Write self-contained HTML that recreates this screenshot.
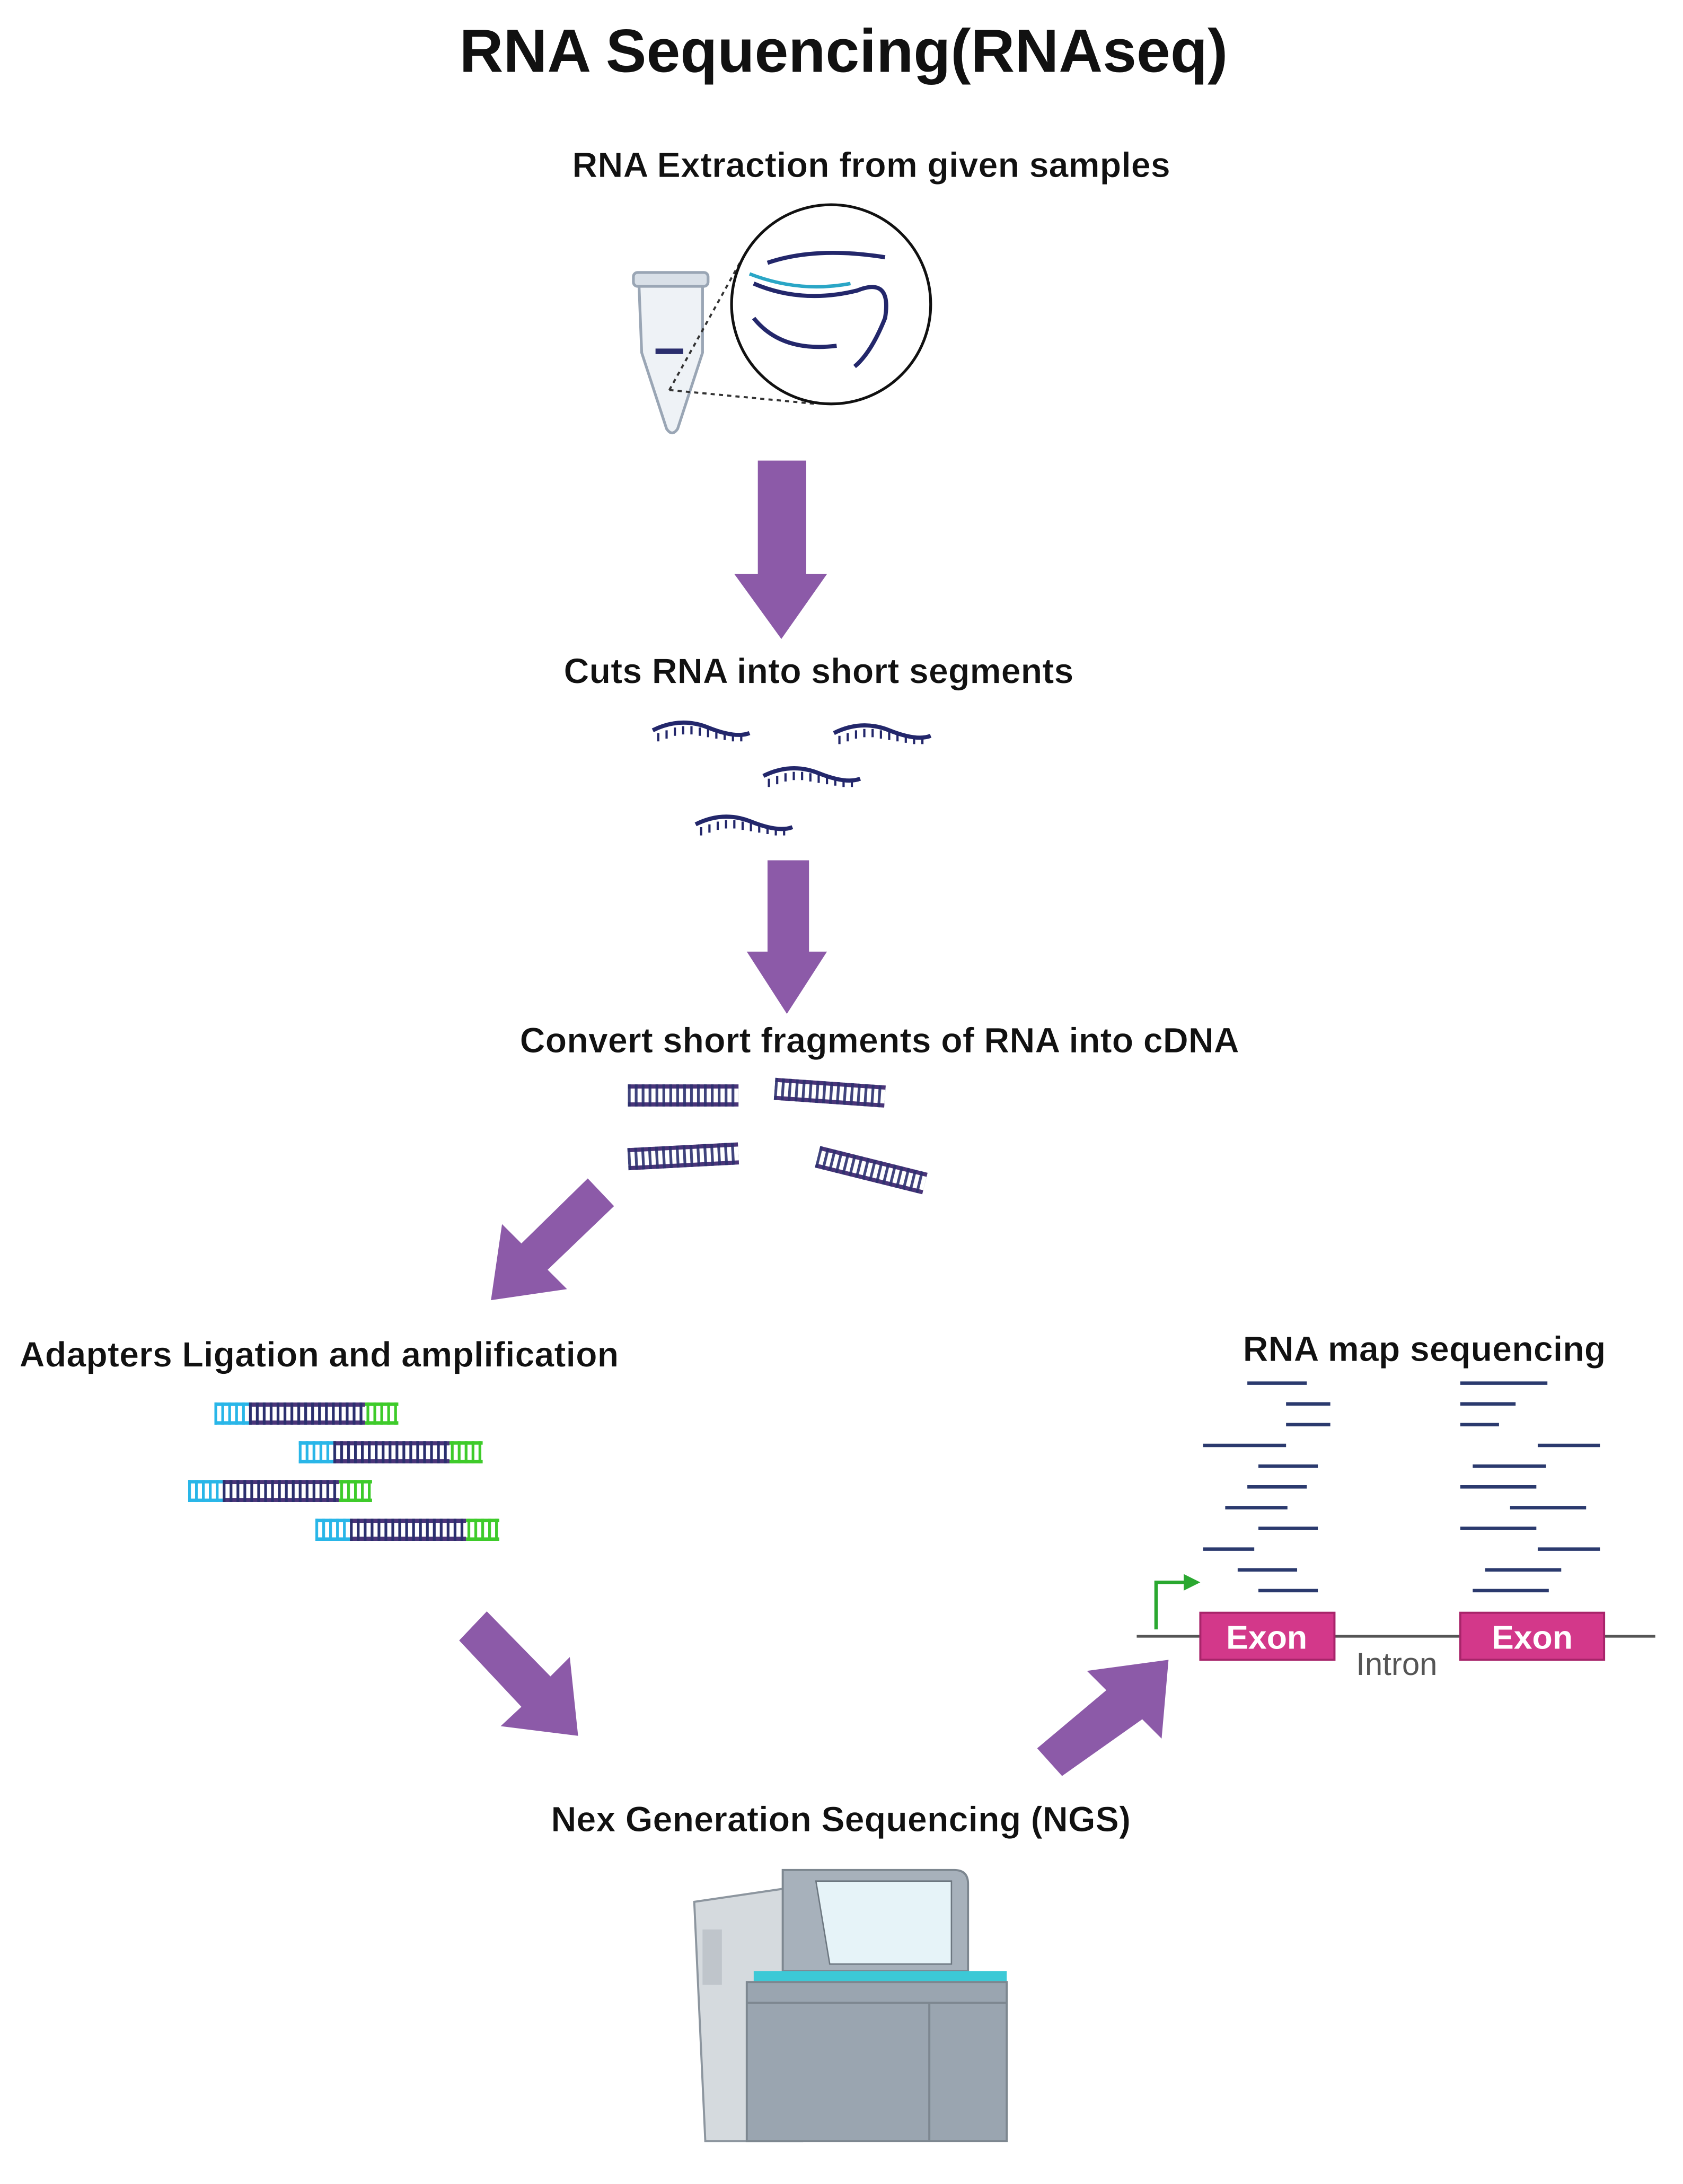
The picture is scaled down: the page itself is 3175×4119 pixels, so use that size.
<!DOCTYPE html>
<html><head><meta charset="utf-8"><style>
html,body{margin:0;padding:0;background:#fff}
svg{display:block}
text{font-family:"Liberation Sans",sans-serif;fill:#111}
.l{font-size:25.5px;font-weight:bold;stroke:#fff;stroke-width:0.3}
</style></head><body>
<svg width="3175" height="4119" viewBox="0 0 1217 1579" xmlns="http://www.w3.org/2000/svg">
<defs>
<pattern id="tk" width="5" height="10" patternUnits="userSpaceOnUse"><rect x="0" y="0" width="2" height="10" fill="#2b2f6e"/></pattern>
<pattern id="tg" width="5" height="10" patternUnits="userSpaceOnUse"><rect x="0" y="0" width="2" height="10" fill="#3ecb2a"/></pattern>
<pattern id="tb" width="5" height="10" patternUnits="userSpaceOnUse"><rect x="0" y="0" width="2" height="10" fill="#29b6e8"/></pattern>
<g id="frag"><path d="M0 6 Q20 -4 40 4 T70 8" fill="none" stroke="#23276b" stroke-width="3"/><path d="M4 8 L4 14 M10 6 L10 12 M16 4 L16 10 M22 3 L22 9 M28 3 L28 9 M34 4 L34 10 M40 5 L40 11 M46 6 L46 12 M52 7 L52 13 M58 8 L58 14 M64 8 L64 14" stroke="#23276b" stroke-width="1.6"/></g>
<g id="ds"><rect x="0" y="0" width="80" height="3" fill="#4a3579"/><rect x="0" y="13" width="80" height="3" fill="#4a3579"/><rect x="0" y="0" width="80" height="16" fill="url(#tk)" opacity="0.9"/></g>
<g id="ad">
<rect x="155" y="1014" width="25" height="16" fill="url(#tb)"/><rect x="155" y="1014" width="25" height="2.5" fill="#29b6e8"/><rect x="155" y="1027.5" width="25" height="2.5" fill="#29b6e8"/>
<rect x="180" y="1014" width="84" height="3" fill="#4a3579"/><rect x="180" y="1027" width="84" height="3" fill="#4a3579"/><rect x="180" y="1014" width="84" height="16" fill="url(#tk)"/>
<rect x="264" y="1014" width="24" height="2.5" fill="#3ecb2a"/><rect x="264" y="1027.5" width="24" height="2.5" fill="#3ecb2a"/><rect x="264" y="1014" width="24" height="16" fill="url(#tg)"/>
</g>
</defs>
<text x="610" y="52" font-size="44" font-weight="bold" text-anchor="middle">RNA Sequencing(RNAseq)</text>
<text class="l" x="630" y="128" text-anchor="middle">RNA Extraction from given samples</text>
<path d="M462 205 L508 205 L508 255 L490 310 Q486 316 482 310 L464 255 Z" fill="#eef2f6" stroke="#9aa6b5" stroke-width="2"/>
<rect x="458" y="197" width="54" height="10" rx="3" fill="#d9e0e8" stroke="#9aa6b5" stroke-width="2"/>
<rect x="474" y="252" width="20" height="4" fill="#2b2f6e"/>
<path d="M484 282 L535 190 M484 282 L590 292" stroke="#333" stroke-width="1.5" stroke-dasharray="3,3"/>
<circle cx="601" cy="220" r="72" fill="#fff" stroke="#111" stroke-width="2"/>
<path d="M555 190 Q590 178 640 186" fill="none" stroke="#23276b" stroke-width="3"/>
<path d="M545 205 Q580 220 620 210 Q645 200 640 230 Q630 255 618 265" fill="none" stroke="#23276b" stroke-width="3"/>
<path d="M542 198 Q578 212 615 205" fill="none" stroke="#2aa6c6" stroke-width="2.5"/>
<path d="M545 230 Q565 255 605 250" fill="none" stroke="#23276b" stroke-width="3"/>
<path d="M548 333 L583 333 L583 415 L598 415 L565 462 L531 415 L548 415 Z" fill="#8c5aa8"/>
<text class="l" x="592" y="494" text-anchor="middle">Cuts RNA into short segments</text>
<use href="#frag" x="472" y="522"/><use href="#frag" x="603" y="524"/><use href="#frag" x="552" y="555"/><use href="#frag" x="503" y="590"/>
<path d="M555 622 L585 622 L585 688 L598 688 L569 733 L540 688 L555 688 Z" fill="#8c5aa8"/>
<text class="l" x="636" y="761" text-anchor="middle">Convert short fragments of RNA into cDNA</text>
<use href="#ds" x="454" y="784"/><use href="#ds" x="560" y="782" transform="rotate(4 600 790)"/>
<use href="#ds" x="454" y="828" transform="rotate(-3 494 836)"/><use href="#ds" x="590" y="838" transform="rotate(14 630 846)"/>
<path d="M425 852 L444 872 L396 918 L410 932 L355 940 L363 885 L377 899 Z" fill="#8c5aa8"/>
<text class="l" x="14" y="988">Adapters Ligation and amplification</text>
<use href="#ad"/>
<use href="#ad" x="61" y="28"/>
<use href="#ad" x="-19" y="56"/>
<use href="#ad" x="73" y="84"/>
<path d="M332 1186 L352 1165 L398 1212 L412 1198 L418 1255 L362 1248 L377 1234 Z" fill="#8c5aa8"/>
<path d="M768 1284 L750 1264 L800 1222 L786 1208 L845 1200 L840 1257 L826 1243 Z" fill="#8c5aa8"/>
<text class="l" x="1030" y="984" text-anchor="middle">RNA map sequencing</text>
<g stroke="#2b3a6e" stroke-width="2.5">
<path d="M902 1000h43M930 1015h32M930 1030h32M870 1045h60M910 1060h43M902 1075h43M886 1090h45M910 1105h43M870 1120h37M895 1135h43M910 1150h43"/>
<path d="M1056 1000h63M1056 1015h40M1056 1030h28M1112 1045h45M1065 1060h53M1056 1075h55M1092 1090h55M1056 1105h55M1112 1120h45M1074 1135h55M1065 1150h55"/>
</g>
<path d="M822 1183H1197" stroke="#555" stroke-width="2"/>
<path d="M836 1178V1144H858" fill="none" stroke="#2aa830" stroke-width="2.5"/><path d="M856 1138L868 1144L856 1150Z" fill="#2aa830"/>
<rect x="868" y="1166" width="97" height="34" fill="#d3388a" stroke="#a8246a" stroke-width="1.5"/>
<rect x="1056" y="1166" width="104" height="34" fill="#d3388a" stroke="#a8246a" stroke-width="1.5"/>
<text x="916" y="1192" font-size="24" font-weight="bold" text-anchor="middle" style="fill:#fff">Exon</text>
<text x="1108" y="1192" font-size="24" font-weight="bold" text-anchor="middle" style="fill:#fff">Exon</text>
<text x="1010" y="1211" font-size="23" text-anchor="middle" style="fill:#555">Intron</text>
<text class="l" x="608" y="1324" text-anchor="middle">Nex Generation Sequencing (NGS)</text>
<path d="M502 1375 L570 1365 L580 1548 L510 1548 Z" fill="#d5dade" stroke="#8d969f" stroke-width="1.5"/>
<rect x="508" y="1395" width="14" height="40" fill="#bfc5cb"/>
<path d="M566 1352 L690 1352 Q700 1352 700 1362 L700 1425 L566 1425 Z" fill="#a7b1bb" stroke="#7d8790" stroke-width="1.5"/>
<path d="M590 1360 L688 1360 L688 1420 L600 1420 Z" fill="#e6f3f8" stroke="#6d7780"/>
<rect x="545" y="1425" width="183" height="8" fill="#3cc9d6"/>
<rect x="540" y="1433" width="188" height="115" fill="#9aa5b0" stroke="#7d8790" stroke-width="1.5"/>
<path d="M672 1448V1548M540 1448H728" stroke="#7d8790" stroke-width="1.5"/>
</svg>
</body></html>
